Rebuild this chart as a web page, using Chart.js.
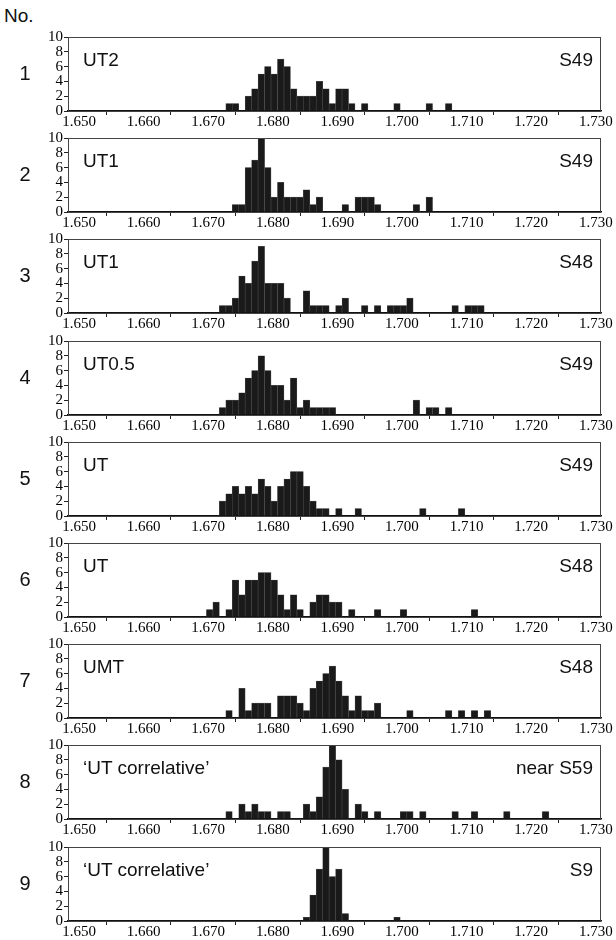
<!DOCTYPE html>
<html>
<head>
<meta charset="utf-8">
<script src="https://cdn.jsdelivr.net/npm/chart.js@4/dist/chart.umd.min.js"></script>
<style>
  body { margin: 0; background: #fff; }
  #page { position: relative; width: 616px; height: 940px; overflow: hidden; font-family: 'Liberation Sans', Arial, sans-serif; color: #111; }
  .panel { position: absolute; left: 0; width: 616px; height: 102px; }
  .panel canvas { position: absolute; left: 0; top: 0; }
  .num { position: absolute; left: 12px; width: 26px; text-align: center; font-size: 20px; line-height: 20px; }
  .tag { position: absolute; font-size: 19px; line-height: 19px; white-space: nowrap; }
  #no { position: absolute; left: 4px; top: 6px; font-size: 19px; line-height: 19px; }
</style>
</head>
<body>
<div id="page">
  <div id="no">No.</div>
</div>
<script>
// axis labels
const xTicks = [1.650, 1.660, 1.670, 1.680, 1.690, 1.700, 1.710, 1.720, 1.730];
const yTicks = [0, 2, 4, 6, 8, 10];

const panelNo = ['1', '2', '3', '4', '5', '6', '7', '8', '9'];
const leftTags = ['UT2', 'UT1', 'UT1', 'UT0.5', 'UT', 'UT', 'UMT', '‘UT correlative’', '‘UT correlative’'];
const rightTags = ['S49', 'S49', 'S48', 'S49', 'S49', 'S48', 'S48', 'near S59', 'S9'];

// refractive index bins (centre) and counts, one pair per panel
const ri1 = [1.674, 1.675, 1.677, 1.678, 1.679, 1.680, 1.681, 1.682, 1.683, 1.684, 1.685, 1.686, 1.687, 1.688, 1.689, 1.690, 1.691, 1.692, 1.693, 1.695, 1.700, 1.705, 1.708];
const n1  = [1, 1, 2, 3, 5, 6, 5, 7, 6, 3, 2, 2, 2, 4, 3, 1, 3, 3, 1, 1, 1, 1, 1];

const ri2 = [1.675, 1.676, 1.677, 1.678, 1.679, 1.680, 1.681, 1.682, 1.683, 1.684, 1.685, 1.686, 1.687, 1.688, 1.692, 1.694, 1.695, 1.696, 1.697, 1.703, 1.705];
const n2  = [1, 1, 6, 7, 10, 6, 2, 4, 2, 2, 2, 3, 1, 2, 1, 2, 2, 2, 1, 1, 2];

const ri3 = [1.673, 1.674, 1.675, 1.676, 1.677, 1.678, 1.679, 1.680, 1.681, 1.682, 1.683, 1.686, 1.687, 1.688, 1.689, 1.691, 1.692, 1.695, 1.697, 1.699, 1.700, 1.701, 1.702, 1.709, 1.711, 1.712, 1.713];
const n3  = [1, 1, 2, 5, 4, 7, 9, 4, 4, 4, 2, 3, 1, 1, 1, 1, 2, 1, 1, 1, 1, 1, 2, 1, 1, 1, 1];

const ri4 = [1.673, 1.674, 1.675, 1.676, 1.677, 1.678, 1.679, 1.680, 1.681, 1.682, 1.683, 1.684, 1.685, 1.686, 1.687, 1.688, 1.689, 1.690, 1.703, 1.705, 1.706, 1.708];
const n4  = [1, 2, 2, 3, 5, 6, 8, 6, 4, 4, 2, 5, 1, 2, 1, 1, 1, 1, 2, 1, 1, 1];

const ri5 = [1.673, 1.674, 1.675, 1.676, 1.677, 1.678, 1.679, 1.680, 1.681, 1.682, 1.683, 1.684, 1.685, 1.686, 1.687, 1.688, 1.689, 1.691, 1.694, 1.704, 1.710];
const n5  = [2, 3, 4, 3, 4, 3, 5, 4, 2, 4, 5, 6, 6, 4, 2, 1, 1, 1, 1, 1, 1];

const ri6 = [1.671, 1.672, 1.674, 1.675, 1.676, 1.677, 1.678, 1.679, 1.680, 1.681, 1.682, 1.683, 1.684, 1.685, 1.687, 1.688, 1.689, 1.690, 1.691, 1.693, 1.697, 1.701, 1.712];
const n6  = [1, 2, 1, 5, 3, 5, 5, 6, 6, 5, 3, 1, 3, 1, 2, 3, 3, 2, 2, 1, 1, 1, 1];

const ri7 = [1.674, 1.676, 1.677, 1.678, 1.679, 1.680, 1.682, 1.683, 1.684, 1.685, 1.686, 1.687, 1.688, 1.689, 1.690, 1.691, 1.692, 1.693, 1.694, 1.695, 1.696, 1.697, 1.702, 1.708, 1.710, 1.712, 1.714];
const n7  = [1, 4, 1, 2, 2, 2, 3, 3, 3, 2, 1, 4, 5, 6, 7, 5, 3, 1, 3, 1, 1, 2, 1, 1, 1, 1, 1];

const ri8 = [1.674, 1.676, 1.677, 1.678, 1.679, 1.680, 1.682, 1.683, 1.686, 1.687, 1.688, 1.689, 1.690, 1.691, 1.692, 1.694, 1.695, 1.697, 1.701, 1.702, 1.704, 1.709, 1.712, 1.717, 1.723];
const n8  = [1, 2, 1, 2, 1, 1, 1, 1, 2, 1, 3, 7, 10, 8, 4, 2, 1, 1, 1, 1, 1, 1, 1, 1, 1];

const ri9 = [1.686, 1.687, 1.688, 1.689, 1.690, 1.691, 1.692, 1.700];
const n9  = [0.5, 3.5, 7, 10, 6, 7, 1, 0.5];

const riList = [ri1, ri2, ri3, ri4, ri5, ri6, ri7, ri8, ri9];
const nList = [n1, n2, n3, n4, n5, n6, n7, n8, n9];

// layout of the stacked panels
const plotTop0 = 35;
const panelStep = 101.2;
const padTop = 8;
const plotH = 76;
const xAxisH = 18;
const xMin = 1.64907;
const xMax = 1.73158;

const frame = {
  id: 'frame',
  afterDraw(chart) {
    const {ctx, chartArea: a} = chart;
    ctx.save();
    ctx.strokeStyle = '#444';
    ctx.lineWidth = 1;
    ctx.strokeRect(a.left + 0.5, a.top + 0.5, a.right - a.left - 1, a.bottom - a.top);
    ctx.restore();
  }
};

const page = document.getElementById('page');
const tickFont = {family: "'Liberation Serif', 'Times New Roman', serif", size: 15};

riList.forEach((ri, i) => {
  const plotTop = plotTop0 + i * panelStep;

  const box = document.createElement('div');
  box.className = 'panel';
  box.style.top = (plotTop - padTop) + 'px';
  const canvas = document.createElement('canvas');
  canvas.width = 616;
  canvas.height = padTop + plotH + xAxisH;
  box.appendChild(canvas);
  page.appendChild(box);

  const num = document.createElement('div');
  num.className = 'num';
  num.textContent = panelNo[i];
  num.style.top = (plotTop + plotH / 2 - 10) + 'px';
  page.appendChild(num);

  const lt = document.createElement('div');
  lt.className = 'tag';
  lt.textContent = leftTags[i];
  lt.style.left = '83px';
  lt.style.top = (plotTop + 15) + 'px';
  page.appendChild(lt);

  const rt = document.createElement('div');
  rt.className = 'tag';
  rt.textContent = rightTags[i];
  rt.style.right = '23px';
  rt.style.top = (plotTop + 15) + 'px';
  page.appendChild(rt);

  new Chart(canvas, {
    type: 'bar',
    data: {
      datasets: [{
        data: ri.map((x, k) => ({x: x, y: nList[i][k]})),
        backgroundColor: '#1a1a1a',
        borderColor: '#4a4a4a',
        borderWidth: 0.6,
        barPercentage: 1,
        categoryPercentage: 1
      }]
    },
    options: {
      responsive: false,
      animation: false,
      events: [],
      layout: {padding: {left: 0, right: 15, top: padTop, bottom: 0}},
      plugins: {legend: {display: false}, tooltip: {enabled: false}},
      scales: {
        x: {
          type: 'linear',
          min: xMin,
          max: xMax,
          offset: false,
          afterBuildTicks: ax => { ax.ticks = xTicks.map(v => ({value: v})); },
          afterFit: ax => { ax.height = xAxisH; },
          grid: {display: true, drawOnChartArea: false, drawTicks: true, tickLength: 4, color: '#222'},
          border: {display: true, color: '#111', width: 1.5},
          ticks: {
            autoSkip: false,
            maxRotation: 0,
            padding: -2,
            labelOffset: 5,
            color: '#000',
            font: tickFont,
            callback: v => Number(v).toFixed(3)
          }
        },
        y: {
          min: 0,
          max: 10,
          afterBuildTicks: ax => { ax.ticks = yTicks.map(v => ({value: v})); },
          afterFit: ax => { ax.width = 68; },
          grid: {display: true, drawOnChartArea: false, drawTicks: true, tickLength: 4, color: '#222'},
          border: {display: true, color: '#222', width: 1},
          ticks: {autoSkip: false, padding: 1, color: '#000', font: tickFont}
        }
      }
    },
    plugins: [frame]
  });
});
</script>
</body>
</html>
